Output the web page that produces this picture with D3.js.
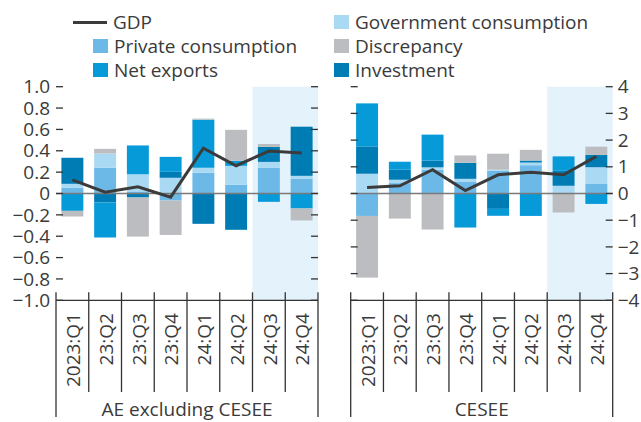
<!DOCTYPE html>
<html><head><meta charset="utf-8">
<script src="https://cdn.jsdelivr.net/npm/d3@7"></script>
<style>
html,body{margin:0;padding:0;background:#fff;}
svg text{font-family:"Open Sans",sans-serif;fill:#3a3a3a;}
</style></head>
<body>
<svg id="chart" width="641" height="422"></svg>
<script>
// ---------- data ----------
const categories = ["2023:Q1","23:Q2","23:Q3","23:Q4","24:Q1","24:Q2","24:Q3","24:Q4"];
const seriesKeys = ["private","gov","inv","net","disc"];
const seriesNames = {private:"Private consumption", gov:"Government consumption", inv:"Investment", net:"Net exports", disc:"Discrepancy"};

// AE excluding CESEE
const aePrivate = [0.053, 0.24, 0.02, -0.066, 0.194, 0.081, 0.24, 0.1375];
const aeGov     = [0.0375, 0.134, 0.16, 0.147, 0.047, 0.178, 0.056, 0.028];
const aeInv     = [0.244, -0.084, -0.0375, 0.056, -0.284, -0.34, 0.14, 0.46];
const aeNet     = [-0.1625, -0.328, 0.27, 0.14, 0.45, 0.047, -0.078, -0.14];
const aeDisc    = [-0.053, 0.044, -0.366, -0.322, 0.01, 0.29, 0.028, -0.1125];
const aeGDP     = [0.128, 0.0125, 0.0625, -0.034, 0.425, 0.26, 0.397, 0.38];

// CESEE
const cePrivate = [-0.84, 0.39, 0.89, 0.45, 0.85, 1.06, 0, 0.36];
const ceGov     = [0.74, 0.125, 0.09, 0.1, 0.04, 0.1, 0.29, 0.625];
const ceInv     = [1.025, 0.375, 0.25, 0.6, -0.575, 0.075, 0.56, 0.46];
const ceNet     = [1.61, 0.3, 0.975, -1.275, -0.26, -0.84, 0.54, -0.39];
const ceDisc    = [-2.31, -0.94, -1.35, 0.275, 0.6, 0.4, -0.71, 0.31];
const ceGDP     = [0.225, 0.29, 0.89, 0.11, 0.7, 0.8, 0.7, 1.39];

const aeTicks = [1.0,0.8,0.6,0.4,0.2,0,-0.2,-0.4,-0.6,-0.8,-1.0];
const ceTicks = [4,3,2,1,0,-1,-2,-3,-4];
const shadedCats = ["24:Q3","24:Q4"];

const colors = {private:"#6cb9e8", gov:"#a9d9f3", inv:"#007cb5", net:"#079ad9", disc:"#bcbdc0"};
const gdpColor = "#3b3b3b";
const shadeColor = "#e4f3fb";

// ---------- layout ----------
const svg = d3.select("#chart");
const plotTop = 86.7, plotBottom = 300.3;
const fmtMinus = s => s.replace("-", "\u2212");

function panel(opts){
  const {x0, x1, domain, ticks, tickFmt, labelSide, data, gdp, title} = opts;
  const x = d3.scaleBand().domain(categories).range([x0, x1]).paddingInner(0.33).paddingOuter(0.165);
  const y = d3.scaleLinear().domain(domain).range([plotBottom, plotTop]);
  const g = svg.append("g");

  // shading
  const sx0 = x(shadedCats[0]) - x.step()*x.paddingInner()/2;
  g.append("rect").attr("x", sx0).attr("y", y(domain[1]))
    .attr("width", x1 - sx0).attr("height", y(domain[0]) - y(domain[1]))
    .attr("fill", shadeColor);

  // stacked bars
  const rows = categories.map((c,i)=>{
    const r = {cat:c};
    seriesKeys.forEach(k=> r[k] = data[k][i]);
    return r;
  });
  const stack = d3.stack().keys(seriesKeys).offset(d3.stackOffsetDiverging);
  const layers = stack(rows);
  g.selectAll("g.layer").data(layers).join("g").attr("class","layer")
    .attr("fill", d=>colors[d.key])
    .selectAll("rect").data(d=>d).join("rect")
    .attr("x", d=>x(d.data.cat)).attr("width", x.bandwidth())
    .attr("y", d=>y(Math.max(d[0],d[1])))
    .attr("height", d=>Math.abs(y(d[0])-y(d[1])));

  // zero line
  g.append("line").attr("x1", x0).attr("x2", x1).attr("y1", y(0)).attr("y2", y(0))
    .attr("stroke", "#7a7a7a").attr("stroke-width", 1.6);

  // GDP line
  const line = d3.line().x((d,i)=>x(categories[i]) + x.bandwidth()/2).y(d=>y(d));
  g.append("path").attr("d", line(gdp)).attr("fill","none")
    .attr("stroke", gdpColor).attr("stroke-width", 3).attr("stroke-linejoin","miter");

  // y ticks both sides (inside)
  const tg = g.append("g").attr("stroke","#333").attr("stroke-width",1.3);
  ticks.forEach(t=>{
    tg.append("line").attr("x1", x0).attr("x2", x0+7).attr("y1", y(t)).attr("y2", y(t));
    tg.append("line").attr("x1", x1-7).attr("x2", x1).attr("y1", y(t)).attr("y2", y(t));
  });
  // tick labels
  ticks.forEach(t=>{
    const txt = g.append("text").attr("y", y(t)).attr("dy","0.35em")
      .attr("font-size", 19).text(fmtMinus(tickFmt(t)));
    if (labelSide === "left") txt.attr("x", x0-6).attr("text-anchor","end");
    else txt.attr("x", x1+5).attr("text-anchor","start");
  });

  // bottom axis
  const ag = g.append("g").attr("stroke","#333").attr("stroke-width",1.3);
  ag.append("line").attr("x1", x0).attr("x2", x1).attr("y1", plotBottom).attr("y2", plotBottom);
  const bounds = d3.range(categories.length+1).map(i => x0 + i*x.step());
  bounds.forEach((bx,i)=>{
    const outer = (i===0 || i===categories.length);
    ag.append("line").attr("x1", bx).attr("x2", bx).attr("y1", plotBottom-8).attr("y2", outer ? 417 : 392);
  });
  // category labels
  categories.forEach(c=>{
    const cx = x(c) + x.bandwidth()/2;
    g.append("text").attr("transform", `translate(${cx+1},313) rotate(-90)`)
      .attr("text-anchor","end").attr("dy","0.35em").attr("font-size",19).text(c);
  });
  g.append("text").attr("x", (x0+x1)/2).attr("y", 416).attr("text-anchor","middle")
    .attr("font-size",19).text(title);
}

panel({x0:56, x1:318, domain:[-1,1], ticks:aeTicks,
  tickFmt: t => t===0 ? "0" : d3.format(".1f")(t), labelSide:"left",
  data:{private:aePrivate, gov:aeGov, inv:aeInv, net:aeNet, disc:aeDisc}, gdp:aeGDP,
  title:"AE excluding CESEE"});
panel({x0:350.7, x1:612.7, domain:[-4,4], ticks:ceTicks,
  tickFmt: t => d3.format("d")(t), labelSide:"right",
  data:{private:cePrivate, gov:ceGov, inv:ceInv, net:ceNet, disc:ceDisc}, gdp:ceGDP,
  title:"CESEE"});

// ---------- legend ----------
const lg = svg.append("g");
lg.append("line").attr("x1",73).attr("x2",107).attr("y1",22.5).attr("y2",22.5)
  .attr("stroke",gdpColor).attr("stroke-width",3);
lg.append("text").attr("x",113).attr("y",29).attr("font-size",19).text("GDP");
const legendItems = [
  {key:"private", x:93, y:53},
  {key:"net", x:93, y:77},
  {key:"gov", x:334, y:29},
  {key:"disc", x:334, y:53},
  {key:"inv", x:334, y:77}
];
legendItems.forEach(it=>{
  lg.append("rect").attr("x", it.x).attr("y", it.y-14).attr("width",15).attr("height",14)
    .attr("fill", colors[it.key]);
  lg.append("text").attr("x", it.x+21).attr("y", it.y).attr("font-size",19).text(seriesNames[it.key]);
});
</script>
</body></html>
